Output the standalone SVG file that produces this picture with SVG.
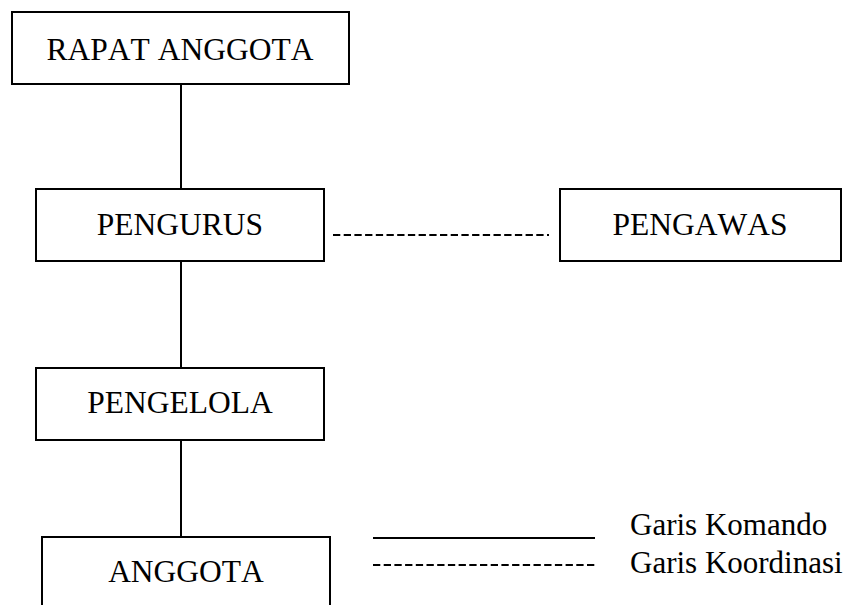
<svg xmlns="http://www.w3.org/2000/svg" width="857" height="605" viewBox="0 0 857 605">
<style>
.box{fill:#fff;stroke:#000;stroke-width:2}
.lbl{font-family:"Liberation Serif","Times New Roman",serif;font-size:31.5px;fill:#000;text-anchor:middle;font-kerning:none}
.leg{font-family:"Liberation Serif","Times New Roman",serif;font-size:31px;fill:#000;font-kerning:none}
.solid{stroke:#000;stroke-width:2;fill:none}
.dash{stroke:#000;stroke-width:2.2;fill:none;stroke-dasharray:7.3 3.4}
</style>
<rect width="857" height="605" fill="#fff"/>
<g id="connectors">
<line class="solid" x1="181" y1="84" x2="181" y2="189"/>
<line class="solid" x1="181" y1="261" x2="181" y2="368"/>
<line class="solid" x1="181" y1="440" x2="181" y2="537"/>
<line class="dash" x1="333" y1="235" x2="549" y2="235"/>
</g>
<g id="rapat-anggota">
<rect class="box" x="12" y="12" width="337" height="72"/>
<text class="lbl" x="180" y="60">RAPAT ANGGOTA</text>
</g>
<g id="pengurus">
<rect class="box" x="36" y="189" width="288" height="72"/>
<text class="lbl" x="180" y="235">PENGURUS</text>
</g>
<g id="pengawas">
<rect class="box" x="560" y="189" width="281" height="72"/>
<text class="lbl" x="700" y="235">PENGAWAS</text>
</g>
<g id="pengelola">
<rect class="box" x="36" y="368" width="288" height="72"/>
<text class="lbl" x="180" y="413">PENGELOLA</text>
</g>
<g id="anggota">
<path class="box" d="M42,606 V537 H330 V606"/>
<text class="lbl" x="186" y="582">ANGGOTA</text>
</g>
<g id="legend">
<line class="solid" x1="373" y1="538" x2="595" y2="538"/>
<line class="dash" x1="373" y1="565" x2="595" y2="565"/>
<text class="leg" x="630" y="535">Garis Komando</text>
<text class="leg" x="630" y="573">Garis Koordinasi</text>
</g>
</svg>
